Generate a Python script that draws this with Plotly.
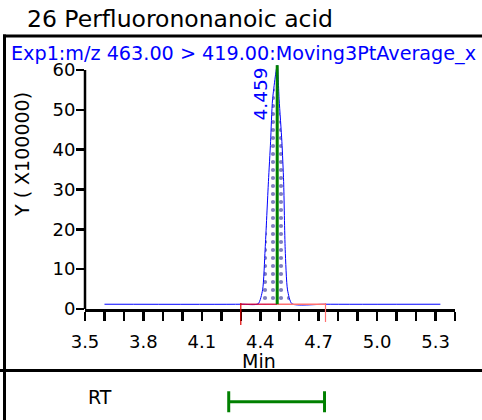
import plotly.graph_objects as go

W, H = 482, 420

# ---- data ----
title_text = "26 Perfluorononanoic acid"
trace_label = "Exp1:m/z 463.00 > 419.00:Moving3PtAverage_x"
rt_min = [3.60, 4.30, 4.389, 4.412, 4.425, 4.442, 4.453, 4.463, 4.487,
          4.497, 4.511, 4.520, 4.528, 4.540, 4.563, 4.735, 5.325]
intensity = [1.2, 1.2, 1.3, 4.8, 15.0, 32.0, 42.0, 52.5, 61.2,
             52.5, 42.0, 32.0, 15.0, 4.8, 1.3, 1.2, 1.2]
baseline_rt = [3.60, 5.325]
baseline_level = [1.2, 1.2]
apex_rt = 4.487
apex_height = 61.2
apex_label = "4.459"
integ_start = 4.30
integ_end = 4.735
rt_window = [4.238, 4.730]
rt_row_y = [0.38, 0.38]
x_tickvals = [3.5, 3.8, 4.1, 4.4, 4.7, 5.0, 5.3]
x_ticktext = ["3.5", "3.8", "4.1", "4.4", "4.7", "5.0", "5.3"]
y_tickvals = [0, 10, 20, 30, 40, 50, 60]
y_ticktext = ["0", "10", "20", "30", "40", "50", "60"]

FONT = "DejaVu Sans"

def px_x(p):
    return p / W

def px_y(p):
    return (H - p) / H

fig = go.Figure()

# hidden baseline for the fill
fig.add_trace(go.Scatter(x=baseline_rt, y=baseline_level, mode="lines",
                         line=dict(width=0, color="rgba(0,0,0,0)"),
                         hoverinfo="skip", xaxis="x", yaxis="y"))
# chromatogram
fig.add_trace(go.Scatter(x=rt_min, y=intensity, mode="lines",
                         line=dict(color="#0000FF", width=1, shape="spline", smoothing=0.6),
                         fill="tonexty", fillcolor="white",
                         fillpattern=dict(shape=".", fgcolor="#000080", bgcolor="white",
                                          size=8, solidity=0.22, fillmode="overlay"),
                         xaxis="x", yaxis="y"))
# integration baseline (red)
fig.add_trace(go.Scatter(x=[integ_start, apex_rt], y=[baseline_level[0]] * 2, mode="lines",
                         line=dict(color="rgba(215,0,50,0.85)", width=1.5),
                         xaxis="x", yaxis="y"))
fig.add_trace(go.Scatter(x=[apex_rt, integ_end], y=[baseline_level[0]] * 2, mode="lines",
                         line=dict(color="#ff7070", width=1.5),
                         xaxis="x", yaxis="y"))
# apex line (green)
fig.add_trace(go.Scatter(x=[apex_rt, apex_rt], y=[baseline_level[0], apex_height], mode="lines",
                         line=dict(color="#008000", width=3),
                         xaxis="x", yaxis="y"))
# RT window bar
fig.add_trace(go.Scatter(x=rt_window, y=rt_row_y, mode="lines+markers",
                         line=dict(color="#008000", width=3),
                         marker=dict(symbol="line-ns", size=15,
                                     line=dict(color="#008000", width=3)),
                         xaxis="x", yaxis="y2"))

x_dom = [px_x(85), px_x(455)]
fig.update_layout(
    width=W, height=H,
    margin=dict(l=0, r=0, t=0, b=0, pad=0, autoexpand=False),
    paper_bgcolor="white", plot_bgcolor="white",
    showlegend=False,
    font=dict(family=FONT, color="black", size=18),
    xaxis=dict(domain=x_dom, range=[3.5, 5.4], showgrid=False, zeroline=False,
               automargin=False,
               showline=True, linecolor="black", linewidth=2.5,
               tickmode="array", tickvals=x_tickvals, ticktext=x_ticktext,
               ticks="outside", ticklen=9, tickwidth=2.5, tickcolor="black",
               tickfont=dict(family=FONT, size=18, color="black"),
               ticklabelstandoff=6,
               minor=dict(tick0=3.5, dtick=0.1, ticks="outside", ticklen=9,
                          tickwidth=2.5, tickcolor="black", showgrid=False),
               anchor="y"),
    yaxis=dict(domain=[px_y(309), px_y(62)], range=[0, 62], showgrid=False, zeroline=False,
               automargin=False, showline=False,
               tickmode="array", tickvals=y_tickvals, ticktext=y_ticktext,
               ticks="outside", ticklen=8, tickwidth=2.5, tickcolor="black",
               tickfont=dict(family=FONT, size=18, color="black"),
               ticklabelstandoff=-3, anchor="x"),
    yaxis2=dict(domain=[0, px_y(372)], range=[0, 1], visible=False, automargin=False,
                anchor="x"),
)

shapes = []
# y axis line from 0 to 60
shapes.append(dict(type="line", xref="paper", yref="y", x0=px_x(85), x1=px_x(85),
                   y0=0, y1=60, line=dict(color="black", width=2.5)))
# integration drop lines (extend below the axis)
shapes.append(dict(type="line", xref="x", yref="paper", x0=integ_start, x1=integ_start,
                   y0=px_y(303), y1=px_y(325), line=dict(color="#e00000", width=1.2)))
shapes.append(dict(type="line", xref="x", yref="paper", x0=integ_end, x1=integ_end,
                   y0=px_y(303), y1=px_y(322), line=dict(color="#ff7070", width=1.2)))
# frame
shapes.append(dict(type="line", xref="paper", yref="paper", x0=px_x(3), x1=1,
                   y0=px_y(36), y1=px_y(36), line=dict(color="black", width=3)))
shapes.append(dict(type="line", xref="paper", yref="paper", x0=px_x(4.5), x1=px_x(4.5),
                   y0=0, y1=px_y(34.5), line=dict(color="black", width=3)))
shapes.append(dict(type="line", xref="paper", yref="paper", x0=0, x1=1,
                   y0=px_y(370.5), y1=px_y(370.5), line=dict(color="black", width=3)))
fig.update_layout(shapes=shapes)

annotations = [
    dict(text=title_text, xref="paper", yref="paper", x=px_x(25), y=px_y(19),
         xanchor="left", yanchor="middle", showarrow=False,
         font=dict(family=FONT, size=23.5, color="black")),
    dict(text=trace_label, xref="paper", yref="paper", x=px_x(9), y=px_y(54),
         xanchor="left", yanchor="middle", showarrow=False,
         font=dict(family=FONT, size=19.2, color="#0000FF")),
    dict(text="Y ( X100000)", xref="paper", yref="paper", x=px_x(22), y=px_y(155),
         xanchor="center", yanchor="middle", textangle=-90, showarrow=False,
         font=dict(family=FONT, size=19, color="black")),
    dict(text=apex_label, xref="x", yref="y", x=apex_rt, y=apex_height,
         xanchor="right", yanchor="top", xshift=-4, textangle=-90, showarrow=False,
         font=dict(family=FONT, size=18.5, color="#0000FF")),
    dict(text="Min", xref="paper", yref="paper", x=px_x(259), y=px_y(361),
         xanchor="center", yanchor="middle", showarrow=False,
         font=dict(family=FONT, size=19, color="black")),
    dict(text="RT", xref="paper", yref="paper", x=px_x(86), y=px_y(397),
         xanchor="left", yanchor="middle", showarrow=False,
         font=dict(family=FONT, size=19, color="black")),
]
fig.update_layout(annotations=annotations)

fig.write_html("out.html",
               config={"displayModeBar": False, "staticPlot": True},
               post_script="document.body.style.margin='0';"
                           "document.body.style.padding='0';"
                           "document.body.style.overflow='hidden';")
